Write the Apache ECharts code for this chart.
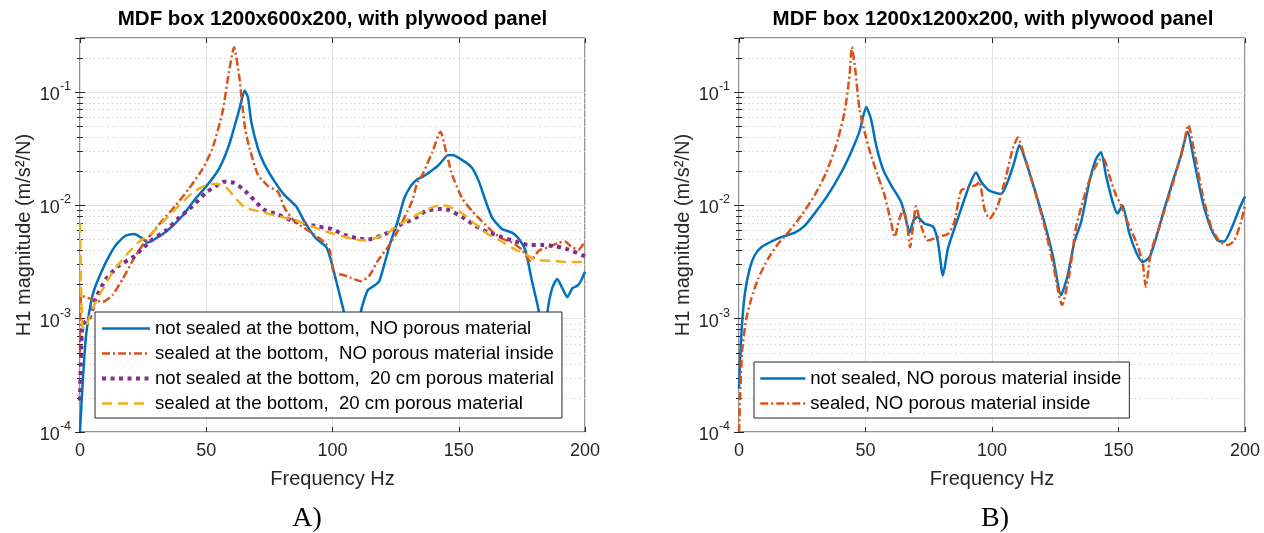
<!DOCTYPE html>
<html>
<head>
<meta charset="utf-8">
<script src="https://cdn.jsdelivr.net/npm/echarts@6/dist/echarts.min.js"></script>
<style>
html,body{margin:0;padding:0;background:#fff;}
#c{width:1264px;height:533px;}
</style>
</head>
<body>
<div id="c"></div>
<script>
// ---- data (frequency Hz, H1 magnitude) ----
const xTicks = [0, 50, 100, 150, 200];
const yDecades = [1e-4, 1e-3, 1e-2, 1e-1];

const aNotSealedNoPorous = [[0,1.0e-4],[1,2.6e-4],[2.4,7.1e-4],[5,1.62e-3],[9,2.75e-3],[14,4.4e-3],[18,5.4e-3],[21.5,5.6e-3],[24.8,5.1e-3],[26.7,4.7e-3],[30,5.1e-3],[35,6.1e-3],[40.6,8.1e-3],[45.8,1.15e-2],[49.8,1.45e-2],[55,2.09e-2],[59,3.4e-2],[63,6.9e-2],[65.2,0.103],[66.5,0.09],[67.8,5.5e-2],[70.5,3.16e-2],[73.1,2.29e-2],[77.1,1.62e-2],[81,1.23e-2],[85.6,9.8e-3],[88.9,7.2e-3],[93.5,5.1e-3],[97.5,4.3e-3],[99.5,3.2e-3],[101.5,2.14e-3],[103.4,1.45e-3],[104.7,1.1e-3],[106.5,6.5e-4],[108.5,5e-4],[110,7e-4],[111.3,1.17e-3],[113.9,1.78e-3],[116.5,1.95e-3],[118.5,2.14e-3],[120.5,3.0e-3],[123.1,4.8e-3],[125.8,7.2e-3],[128.4,1.15e-2],[131,1.48e-2],[133.6,1.7e-2],[135.6,1.78e-2],[139.5,2.04e-2],[142.2,2.29e-2],[145.4,2.75e-2],[147.4,2.78e-2],[151.4,2.51e-2],[155.3,2.14e-2],[158,1.62e-2],[160.6,1.1e-2],[163.2,7.8e-3],[167.1,6.2e-3],[171.1,5.75e-3],[173.7,5.1e-3],[176.4,4.0e-3],[179,2.14e-3],[181.7,1.17e-3],[183.2,6e-4],[184.2,6e-4],[185.2,1.17e-3],[187,1.86e-3],[189,2.24e-3],[191,1.86e-3],[193,1.55e-3],[195,1.86e-3],[197,1.95e-3],[198.3,2.14e-3],[200,2.6e-3]];

const aSealedNoPorous = [[0,5e-4],[0.5,1.6e-3],[3.7,1.51e-3],[9,1.41e-3],[12.9,1.62e-3],[16.9,2.24e-3],[20.8,3.24e-3],[24.8,4.47e-3],[28.7,5.75e-3],[32.7,7.4e-3],[37.9,1.0e-2],[43.2,1.41e-2],[48.5,2.09e-2],[52.4,3.16e-2],[56.4,6.6e-2],[59,0.151],[61,0.248],[63,0.141],[64.3,7.6e-2],[65.5,4.6e-2],[67.2,3.16e-2],[70.5,1.86e-2],[74.5,1.48e-2],[78.4,1.32e-2],[81,9.5e-3],[85,7.2e-3],[88.9,6.3e-3],[92.9,5.5e-3],[96.9,4.7e-3],[98.9,4.0e-3],[100.8,2.45e-3],[103.4,2.45e-3],[107.4,2.29e-3],[111.3,2.14e-3],[114.6,2.4e-3],[117.9,3.24e-3],[121.9,4.27e-3],[125.8,5.9e-3],[129.7,8.9e-3],[131.6,1.1e-2],[133.6,1.6e-2],[135.6,1.86e-2],[139.5,2.95e-2],[142.8,4.47e-2],[144.7,3.16e-2],[147.4,1.86e-2],[151.4,1.15e-2],[155.3,8.9e-3],[159.3,7.2e-3],[163.2,5.9e-3],[167.1,5.1e-3],[171.1,4.7e-3],[175,4.07e-3],[178.3,3.24e-3],[181.7,3.98e-3],[185.6,4.27e-3],[189.5,4.68e-3],[192.1,4.8e-3],[194.8,4.27e-3],[197.4,4.07e-3],[200,4.8e-3]];

const aNotSealedPorous = [[0,1.9e-4],[1,8.9e-4],[3.7,1.0e-3],[6.3,1.51e-3],[10.3,2.24e-3],[15.5,2.95e-3],[20.8,3.47e-3],[24.8,4.17e-3],[28.7,5.0e-3],[34,6.0e-3],[39.3,7.8e-3],[44.5,9.8e-3],[49.8,1.29e-2],[53.8,1.48e-2],[57,1.62e-2],[61,1.58e-2],[64.3,1.41e-2],[66,1.3e-2],[69.2,1.1e-2],[73.1,9.1e-3],[78.4,8.3e-3],[83.6,7.4e-3],[88.9,6.9e-3],[94.2,6.5e-3],[99.5,6.2e-3],[104.7,5.5e-3],[110,5.1e-3],[114,5.0e-3],[119.2,5.4e-3],[123.1,5.9e-3],[127.1,6.8e-3],[131,7.4e-3],[133.6,7.9e-3],[136.9,8.9e-3],[142.2,9.3e-3],[146.1,9.1e-3],[151.4,7.9e-3],[156.6,6.6e-3],[161.9,5.75e-3],[167.1,5.25e-3],[172.4,4.8e-3],[177.7,4.47e-3],[182.9,4.47e-3],[188.2,4.37e-3],[193.5,4.07e-3],[200,3.55e-3]];

const aSealedPorous = [[0,7.0e-3],[0.4,2.0e-3],[1,8.5e-4],[1.7,8.1e-4],[5,1.23e-3],[9,1.82e-3],[12.9,2.57e-3],[18.2,3.63e-3],[23.5,4.8e-3],[28.7,5.75e-3],[34,7.6e-3],[39.3,1.0e-2],[44.5,1.29e-2],[49.1,1.48e-2],[53.8,1.55e-2],[57.7,1.45e-2],[61.7,1.15e-2],[64.3,1.0e-2],[65.2,9.5e-3],[70.5,8.9e-3],[75.8,8.3e-3],[81,7.8e-3],[86.3,7.2e-3],[91.6,6.6e-3],[96.9,5.9e-3],[102.1,5.5e-3],[107.4,5.1e-3],[112.7,4.9e-3],[116.6,5.1e-3],[121.9,5.75e-3],[125.8,6.6e-3],[131,7.8e-3],[133.6,8.3e-3],[136.9,9.1e-3],[142.2,1.0e-2],[146.1,9.8e-3],[151.4,8.5e-3],[156.6,6.8e-3],[161.9,5.5e-3],[167.1,4.8e-3],[172.4,4.07e-3],[176.4,3.72e-3],[180.3,3.31e-3],[186.9,3.24e-3],[193.5,3.16e-3],[200,3.16e-3]];

const bNotSealed = [[0,2.4e-4],[0.9,7.1e-4],[2.25,1.62e-3],[4.2,2.75e-3],[6.2,3.63e-3],[8.8,4.27e-3],[12.8,4.8e-3],[16.7,5.25e-3],[22,5.75e-3],[25.9,6.6e-3],[29.9,8.5e-3],[35.1,1.23e-2],[40.4,1.95e-2],[44.3,2.95e-2],[47.6,4.47e-2],[50.3,7.4e-2],[52.2,5.75e-2],[54.2,3.39e-2],[56.9,2.09e-2],[60.1,1.51e-2],[64.1,1.07e-2],[65.8,7.8e-3],[67.4,5.75e-3],[69,7.4e-3],[70.5,7.9e-3],[73.3,6.9e-3],[76.7,6.5e-3],[78.6,4.8e-3],[80.6,2.4e-3],[82.6,4.17e-3],[85.1,6.2e-3],[87.8,9.3e-3],[91.1,1.51e-2],[93.7,1.95e-2],[95.7,1.62e-2],[99,1.35e-2],[103.6,1.26e-2],[106.2,1.62e-2],[108.8,2.4e-2],[110.8,3.39e-2],[113.5,2.4e-2],[116.7,1.41e-2],[120.7,7.1e-3],[124,3.63e-3],[127.3,1.62e-3],[129.9,2.4e-3],[132.6,4.8e-3],[135.2,7.1e-3],[138.5,1.62e-2],[141.1,2.57e-2],[143.1,2.95e-2],[145.1,1.82e-2],[147.7,1.07e-2],[149.6,8.5e-3],[151.6,1.0e-2],[154.2,5.75e-3],[156.9,3.9e-3],[159.5,3.16e-3],[162.2,3.47e-3],[164.8,5.1e-3],[168.1,9.3e-3],[171.4,1.62e-2],[174.7,2.75e-2],[177.3,4.47e-2],[180,2.4e-2],[183.3,1.07e-2],[186.6,6.2e-3],[189.2,4.9e-3],[191.8,4.8e-3],[195.1,6.6e-3],[197.7,9.3e-3],[200,1.2e-2]];

const bSealed = [[0,1.0e-4],[1.2,5.1e-4],[2.9,1.0e-3],[4.9,1.51e-3],[7.5,2.24e-3],[11.5,3.39e-3],[15.4,4.57e-3],[19.4,5.75e-3],[24.6,8.1e-3],[29.9,1.23e-2],[34.5,1.95e-2],[38.4,3.39e-2],[41.7,6.6e-2],[43.7,0.141],[44.6,0.25],[45.9,0.162],[47.6,7.1e-2],[49.6,4.47e-2],[52.2,2.75e-2],[54.9,1.82e-2],[57.5,1.23e-2],[60.1,7.1e-3],[61.5,5.25e-3],[63.4,7.6e-3],[65,9.3e-3],[66.7,6.2e-3],[67.6,4.27e-3],[70,9.8e-3],[72,6.6e-3],[74.6,4.9e-3],[78.6,5.25e-3],[82.6,5.6e-3],[85.1,7.1e-3],[87.8,1.35e-2],[91.1,1.45e-2],[93.7,1.51e-2],[95,1.62e-2],[97,9.3e-3],[99,7.6e-3],[102.3,1.0e-2],[105.6,1.82e-2],[108.2,3.16e-2],[110.2,3.98e-2],[112.8,2.75e-2],[116.7,1.41e-2],[120.7,6.6e-3],[124,3.16e-3],[127.7,1.32e-3],[130.5,2.4e-3],[133.1,6.2e-3],[135.8,1.07e-2],[139.1,1.82e-2],[142.4,2.51e-2],[144.1,2.57e-2],[146.4,1.82e-2],[149,1.23e-2],[151,1.0e-2],[153.6,7.1e-3],[156.9,4.8e-3],[159.5,3.16e-3],[160.8,1.91e-3],[162.8,3.9e-3],[165.4,5.75e-3],[168.8,1.0e-2],[172.1,1.74e-2],[175.4,3.16e-2],[177.6,5.13e-2],[180,2.95e-2],[183.3,1.23e-2],[186.6,6.5e-3],[189.9,4.8e-3],[193.2,4.47e-3],[195.8,4.9e-3],[198.4,7.1e-3],[200,1.0e-2]];

const namesA = ['not sealed at the bottom,  NO porous material', 'sealed at the bottom,  NO porous material inside', 'not sealed at the bottom,  20 cm porous material', 'sealed at the bottom,  20 cm porous material'];
const namesB = ['not sealed, NO porous material inside', 'sealed, NO porous material inside'];

// ---- styling ----
const FONT = '"Liberation Sans", Arial, Helvetica, sans-serif';
const AX = '#262626';
const C_BLUE = '#0072BD', C_RED = '#D95319', C_PUR = '#7E2F8E', C_YEL = '#EDB120';
const Y_MIN = 1e-4, Y_MAX = 0.3;

const chart = echarts.init(document.getElementById('c'), null, {renderer: 'canvas'});

function xAxisPair(gi) {
  return [
    { type: 'value', gridIndex: gi, min: 0, max: 200, interval: 50, position: 'bottom',
      axisLine: {show: false}, axisTick: {show: true, inside: true, length: 5, lineStyle: {color: AX}},
      axisLabel: {show: true, color: AX, fontFamily: FONT, fontSize: 18, margin: 10},
      splitLine: {show: true, lineStyle: {color: '#e2e2e2', width: 1}},
      name: 'Frequency Hz', nameLocation: 'middle', nameGap: 37,
      nameTextStyle: {color: AX, fontFamily: FONT, fontSize: 20} },
    { type: 'value', gridIndex: gi, min: 0, max: 200, interval: 50, position: 'top',
      axisLine: {show: false}, axisTick: {show: true, inside: true, length: 5, lineStyle: {color: AX}},
      axisLabel: {show: false}, splitLine: {show: false} }
  ];
}
function yLabel(v) {
  const e = Math.log10(v);
  const r = Math.round(e);
  if (Math.abs(e - r) > 0.01) return '';
  return '{b|10}{s|' + r + '}';
}
function yAxisPair(gi) {
  return [
    { type: 'log', logBase: 10, gridIndex: gi, min: Y_MIN, max: Y_MAX, position: 'left',
      axisLine: {show: false},
      axisTick: {show: true, inside: true, length: 5, lineStyle: {color: AX}},
      minorTick: {show: true, splitNumber: 9, length: 3, lineStyle: {color: AX}},
      axisLabel: {show: true, formatter: yLabel, margin: 9,
        rich: {b: {fontFamily: FONT, fontSize: 18, color: AX, lineHeight: 24, verticalAlign: 'bottom'},
               s: {fontFamily: FONT, fontSize: 12.5, color: AX, lineHeight: 24, verticalAlign: 'top'}}},
      splitLine: {show: true, lineStyle: {color: '#e2e2e2', width: 1}},
      minorSplitLine: {show: true, lineStyle: {color: '#cfcfcf', width: 1, type: [1.5, 3]}},
      name: 'H1 magnitude (m/s\u00B2/N)', nameLocation: 'middle', nameGap: 46,
      nameTextStyle: {color: AX, fontFamily: FONT, fontSize: 20} },
    { type: 'log', logBase: 10, gridIndex: gi, min: Y_MIN, max: Y_MAX, position: 'right',
      axisLine: {show: false},
      axisTick: {show: true, inside: true, length: 5, lineStyle: {color: AX}},
      minorTick: {show: true, splitNumber: 9, length: 3, lineStyle: {color: AX}},
      axisLabel: {show: false}, splitLine: {show: false} }
  ];
}
function lineSeries(name, data, gi, color, width, type) {
  return { name, type: 'line', data, xAxisIndex: gi * 2, yAxisIndex: gi * 2,
    showSymbol: false, symbol: 'none', smooth: 0.2, clip: true,
    lineStyle: {color, width, type, cap: 'butt'}, itemStyle: {color},
    emphasis: {disabled: true}, z: 3 };
}
const legendBase = {
  orient: 'vertical', selectedMode: false, backgroundColor: '#fff',
  borderColor: AX, borderWidth: 1, borderRadius: 0, itemGap: 6, itemHeight: 14,
  padding: [7, 8, 5, 5],
  itemStyle: {color: 'rgba(0,0,0,0)', borderColor: 'rgba(0,0,0,0)', borderWidth: 0, opacity: 0},
  lineStyle: {width: 'inherit', type: 'inherit', color: 'inherit'},
  textStyle: {fontFamily: FONT, fontSize: 18.6, lineHeight: 18, color: '#000'}, z: 10
};

const option = {
  animation: false,
  backgroundColor: '#fff',
  grid: [
    {left: 80, top: 38, width: 505, height: 394, show: true, borderColor: AX, borderWidth: 1, backgroundColor: 'transparent', containLabel: false},
    {left: 739, top: 38, width: 506, height: 394, show: true, borderColor: AX, borderWidth: 1, backgroundColor: 'transparent', containLabel: false}
  ],
  xAxis: [...xAxisPair(0), ...xAxisPair(1)],
  yAxis: [...yAxisPair(0), ...yAxisPair(1)],
  legend: [
    Object.assign({}, legendBase, {left: 95, top: 312, itemWidth: 48, data: namesA}),
    Object.assign({}, legendBase, {left: 754, top: 362, itemWidth: 45, data: namesB})
  ],
  series: [
    lineSeries(namesA[0], aNotSealedNoPorous, 0, C_BLUE, 2.5, 'solid'),
    lineSeries(namesA[1], aSealedNoPorous, 0, C_RED, 2.5, [8, 3, 2, 3]),
    lineSeries(namesA[2], aNotSealedPorous, 0, C_PUR, 4, [4, 4.5]),
    lineSeries(namesA[3], aSealedPorous, 0, C_YEL, 2.5, [10, 6]),
    lineSeries(namesB[0], bNotSealed, 1, C_BLUE, 2.5, 'solid'),
    lineSeries(namesB[1], bSealed, 1, C_RED, 2.5, [8, 3, 2, 3])
  ],
  graphic: [
    {type: 'text', x: 332.5, y: 19, style: {text: 'MDF box 1200x600x200, with plywood panel', font: 'bold 20.5px ' + FONT, fill: '#000', align: 'center', verticalAlign: 'middle', textAlign: 'center', textVerticalAlign: 'middle'}},
    {type: 'text', x: 993, y: 19, style: {text: 'MDF box 1200x1200x200, with plywood panel', font: 'bold 20.5px ' + FONT, fill: '#000', align: 'center', verticalAlign: 'middle', textAlign: 'center', textVerticalAlign: 'middle'}},
    {type: 'text', x: 307, y: 519, style: {text: 'A)', font: '28px "Liberation Serif", "Times New Roman", serif', fill: '#000', align: 'center', verticalAlign: 'middle', textAlign: 'center', textVerticalAlign: 'middle'}},
    {type: 'text', x: 995, y: 519, style: {text: 'B)', font: '28px "Liberation Serif", "Times New Roman", serif', fill: '#000', align: 'center', verticalAlign: 'middle', textAlign: 'center', textVerticalAlign: 'middle'}}
  ]
};
chart.setOption(option);
</script>
</body>
</html>
